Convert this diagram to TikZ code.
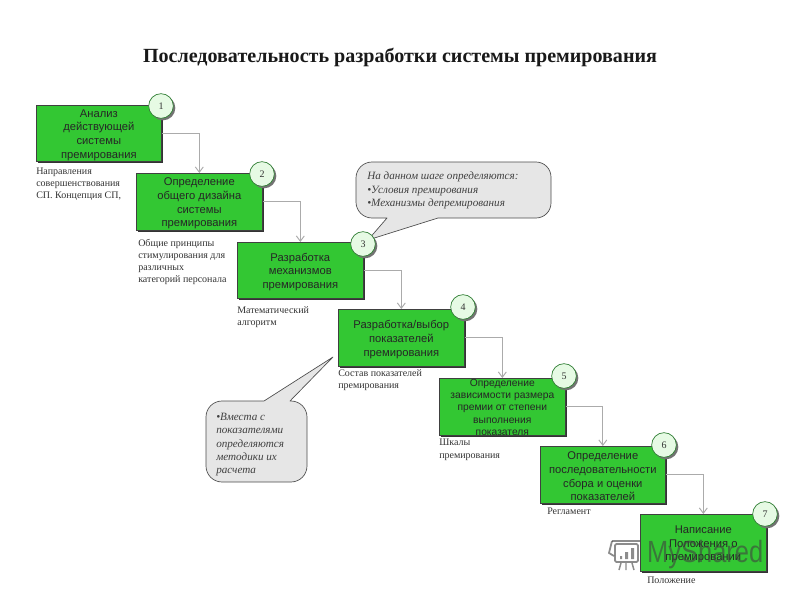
\documentclass[tikz,border=0pt]{standalone}
\usepackage{fontspec}
\setmainfont{Liberation Serif}
\newfontfamily\boxfont{Liberation Sans}
\usetikzlibrary{arrows.meta}
\definecolor{boxgreen}{HTML}{33C733}
\definecolor{circfill}{HTML}{E6FAE4}
\definecolor{circline}{HTML}{2E7D32}
\definecolor{callfill}{HTML}{E6E6E6}
\definecolor{connc}{HTML}{ABABAB}
\definecolor{capc}{HTML}{333333}
\tikzset{
  stepbox/.style={draw=black!75,line width=0.5pt,fill=boxgreen,inner sep=0pt,anchor=north west},
  boxtext/.style={inner sep=0pt,align=center,font=\boxfont\fontsize{8.4}{10.3}\selectfont,text=black!85},
  boxshadow/.style={fill=black!80,draw=none},
  numc/.style={circle,draw=circline,line width=0.5pt,fill=circfill,minimum size=18.5pt,inner sep=0pt,font=\fontsize{7.5}{9}\selectfont,text=black!80},
  numshadow/.style={circle,fill=black!55,minimum size=18.5pt,inner sep=0pt},
  conn/.style={draw=connc,line width=0.7pt,-{Straight Barb[length=4pt,width=6pt]}},
  captext/.style={anchor=north west,inner sep=0pt,align=left,text=capc,font=\fontsize{7.5}{9}\selectfont},
  call/.style={draw=black!70,line width=0.5pt,fill=callfill,line join=round},
  calltext/.style={anchor=north west,inner sep=0pt,align=left,text=black!75,font=\itshape\fontsize{8.35}{10.1}\selectfont},
}
\newcommand{\stepitem}[7][]{%
  \fill[boxshadow] (#2+2,#3+2) rectangle (#4+2,#5+2);
  \node[stepbox,minimum width=#4*0.75pt-#2*0.75pt,minimum height=#5*0.75pt-#3*0.75pt] (#6) at (#2,#3) {};
  \node[boxtext,#1] (#6t) at ([yshift=-1.2pt]#6.center) {#7};
}
\begin{document}
\begin{tikzpicture}[x=0.75pt,y=-0.75pt]
\useasboundingbox (0,0) rectangle (800,600);
\fill[white] (0,0) rectangle (800,600);
\node[font=\bfseries\fontsize{15.05}{18}\selectfont,text=black!90,inner sep=0pt] (title) at (400,57) {Последовательность разработки системы премирования};

% callouts (below the numbered circles)
\draw[call] (372,162) -- (536,162) arc[start angle=90,end angle=0,radius=11.25pt] -- (551,203) arc[start angle=0,end angle=-90,radius=11.25pt] -- (438,218) -- (368,240) -- (387,218) -- (372,218) arc[start angle=-90,end angle=-180,radius=12pt] -- (356,178) arc[start angle=180,end angle=90,radius=12pt] -- cycle;
\node[calltext] (ct1) at (367,172) {На данном шаге определяются:\\•Условия премирования\\•Механизмы депремирования};

\draw[call] (222,401) -- (264,401) -- (333,357) -- (290,401) -- (291,401) arc[start angle=90,end angle=0,radius=12pt] -- (307,466) arc[start angle=0,end angle=-90,radius=12pt] -- (222,482) arc[start angle=-90,end angle=-180,radius=12pt] -- (206,417) arc[start angle=180,end angle=90,radius=12pt] -- cycle;
\node[calltext,font=\itshape\fontsize{8.35}{10}\selectfont] (ct2) at (216,413) {•Вместа с\\показателями\\определяются\\методики их\\расчета};

% boxes
\stepitem{36}{105}{161}{161}{b1}{Анализ\\действующей\\системы\\премирования}
\stepitem{136}{173}{262}{230}{b2}{Определение\\общего дизайна\\системы\\премирования}
\stepitem{237}{242}{363}{298}{b3}{Разработка\\механизмов\\премирования}
\stepitem{338}{309}{464}{366}{b4}{Разработка/выбор\\показателей\\премирования}
\stepitem[font=\boxfont\fontsize{7.7}{9.2}\selectfont,yshift=0.9pt]{439}{378}{565}{435}{b5}{Определение\\зависимости размера\\премии от степени\\выполнения\\показателя}
\stepitem{540}{446}{665}{503}{b6}{Определение\\последовательности\\сбора и оценки\\показателей}
\stepitem{640}{514}{766}{571}{b7}{Написание\\Положения о\\премировании}

% connectors
\draw[conn] (b1.east) -| (b2.north);
\draw[conn] (b2.east) -| (b3.north);
\draw[conn] (b3.east) -| (b4.north);
\draw[conn] (b4.east) -| (b5.north);
\draw[conn] (b5.east) -| (b6.north);
\draw[conn] (b6.east) -| (b7.north);

% numbered circles
\foreach \nm/\cx/\cy/\lab in {n1/161/106/1,n2/262/174/2,n3/363/244/3,n4/463/307/4,n5/564/376/5,n6/664/445/6,n7/765/514/7}{
  \node[numshadow] at (\cx+2,\cy+2) {};
  \node[numc] (\nm) at (\cx,\cy) {\lab};
}

% captions
\node[captext] (c1) at (36,168) {Направления\\совершенствования\\СП. Концепция СП,};
\node[captext] (c2) at (138,239) {Общие принципы\\стимулирования для\\различных\\категорий персонала};
\node[captext,font=\fontsize{7.5}{9.4}\selectfont] (c3) at (237,306) {Математический\\алгоритм};
\node[captext,font=\fontsize{7.5}{9.4}\selectfont] (c4) at (338,369) {Состав показателей\\премирования};
\node[captext,font=\fontsize{7.5}{9.4}\selectfont] (c5) at (439,439) {Шкалы\\премирования};
\node[captext] (c6) at (547,508) {Регламент};
\node[captext] (c7) at (647,577) {Положение};

% watermark
\begin{scope}[opacity=0.6]
\node[font=\boxfont\fontsize{23}{26}\selectfont,text=black!75,inner sep=0pt,anchor=west,xscale=0.83,transform shape] (wm) at (647,555) {MyShared};
\draw[line width=1.3pt,black!75,rounded corners=1pt] (612,541) -- (641,541);
\draw[line width=1.3pt,black!75,rounded corners=1pt] (615,544) rectangle (638,562);
\draw[line width=1.3pt,black!75] (612,541) -- (609,553) -- (614,556);
\fill[black!75] (620,556) rectangle (622,559) (625,552) rectangle (628,559) (631,548) rectangle (634,559);
\draw[line width=1.1pt,black!75] (621,563) -- (619,570) (626,563) -- (626,570) (632,563) -- (634,570);
\end{scope}
\end{tikzpicture}
\end{document}
